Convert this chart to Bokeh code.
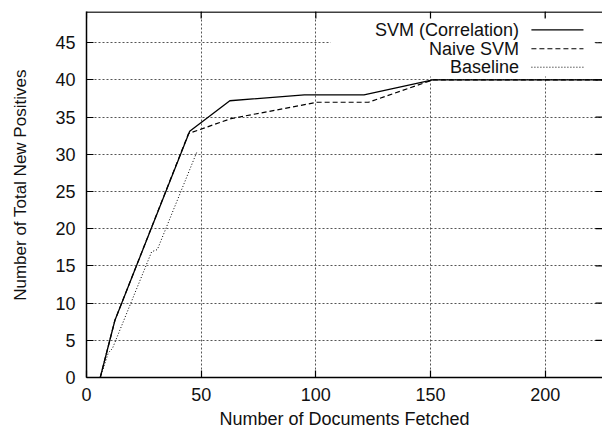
from bokeh.plotting import figure
from bokeh.models import Range1d, FixedTicker
from bokeh.core.properties import value
from bokeh.embed import file_html
from bokeh.resources import INLINE

# ---- data ----
svm_corr_x = [6, 12.4, 45, 62.5, 95, 121, 151, 225]
svm_corr_y = [0, 7.7, 33.1, 37.2, 38, 38, 40, 40]

naive_x = [6, 12.4, 44.5, 63, 100.5, 123, 151, 225]
naive_y = [0, 7.7, 32.8, 34.8, 37, 37, 40, 40]

base_x = [6, 9.5, 11.3, 28.4, 30.9, 48.1]
base_y = [0, 3.3, 3.9, 16.9, 17.2, 30.3]

series_names = ["SVM (Correlation)", "Naive SVM", "Baseline"]
x_ticks = [0, 50, 100, 150, 200]
y_ticks = [0, 5, 10, 15, 20, 25, 30, 35, 40, 45]
x_title = "Number of Documents Fetched"
y_title = "Number of Total New Positives"

X_MAX = 225
Y_MAX = 49.2
FONT = "Liberation Sans"

W, H = 602, 434
LEFT, TOP, BOTTOM = 86, 11, 57
FW, FH = W - LEFT, H - TOP - BOTTOM
XPX = X_MAX / FW          # data units per pixel
YPX = Y_MAX / FH

p = figure(width=W, height=H, output_backend="svg", toolbar_location=None,
           x_range=Range1d(0, X_MAX), y_range=Range1d(0, Y_MAX),
           min_border_left=LEFT, min_border_right=0, min_border_top=TOP,
           min_border_bottom=BOTTOM,
           x_axis_label=x_title,
           # leading no-break spaces lift the centred title a little, as in the reference
           y_axis_label="\u00a0" * 4 + y_title)
p.outline_line_color = None
p.background_fill_color = "white"
p.border_fill_color = "white"

# axes
for ax in (p.xaxis[0], p.yaxis[0]):
    ax.major_tick_in = 7
    ax.major_tick_out = 0
    ax.minor_tick_in = 0
    ax.minor_tick_out = 0
    ax.axis_line_width = 1.5
    ax.major_tick_line_width = 1.2
    ax.major_label_text_font = FONT
    ax.major_label_text_font_size = "18px"
    ax.major_label_text_color = "#111111"
    ax.axis_label_text_font = FONT
    ax.axis_label_text_font_style = "normal"
    ax.axis_label_text_color = "#111111"
p.xaxis[0].ticker = FixedTicker(ticks=x_ticks)
p.yaxis[0].ticker = FixedTicker(ticks=y_ticks)
p.xaxis[0].major_label_standoff = 10
p.yaxis[0].major_label_standoff = 11
p.xaxis[0].axis_label_text_font_size = "18px"
p.xaxis[0].axis_label_standoff = 5
p.yaxis[0].axis_label_text_font_size = "17px"
p.yaxis[0].axis_label_standoff = 22

# grid
p.xgrid.ticker = FixedTicker(ticks=x_ticks[1:])
p.ygrid.ticker = FixedTicker(ticks=y_ticks[1:])
p.grid.grid_line_color = "#555555"
p.grid.grid_line_dash = "2 2"
p.grid.grid_line_width = 1

# legend area mask (key box), drawn before the data lines
p.quad(left=106.4, right=221.5, bottom=40.46, top=48.26, fill_color="white", line_color=None)

# data lines
p.line(base_x, base_y, line_color="black", line_width=1, line_dash="1 2")
p.line(naive_x, naive_y, line_color="black", line_width=1.2, line_dash="5 3")
p.line(svm_corr_x, svm_corr_y, line_color="black", line_width=1.3)

# mirrored ticks on top and right, and the top border
p.segment(x0=0, x1=X_MAX, y0=Y_MAX - 0.6 * YPX, y1=Y_MAX - 0.6 * YPX,
          line_color="black", line_width=1.5)
p.segment(x0=x_ticks, x1=x_ticks, y0=[Y_MAX] * len(x_ticks),
          y1=[Y_MAX - 7 * YPX] * len(x_ticks), line_color="black", line_width=1.2)
p.segment(x0=[X_MAX] * len(y_ticks), x1=[X_MAX - 7 * XPX] * len(y_ticks),
          y0=y_ticks, y1=y_ticks, line_color="black", line_width=1.2)

# key (gnuplot style: right-aligned text, sample on the right)
key_y = [46.74, 44.19, 41.71]
key_dash = ["solid", "5 3", "1 2"]
key_w = [1.3, 1.2, 1]
for ky, dash, w in zip(key_y, key_dash, key_w):
    p.segment(x0=[194.0], y0=[ky], x1=[216.7], y1=[ky], line_color="black",
              line_width=w, line_dash=dash)
p.text(x=[188.6] * 3, y=key_y, text=series_names, text_align="right",
       text_baseline="middle", text_font=value(FONT), text_font_size="18px",
       text_color="#111111")

open("out.html", "w").write(file_html(p, INLINE))
